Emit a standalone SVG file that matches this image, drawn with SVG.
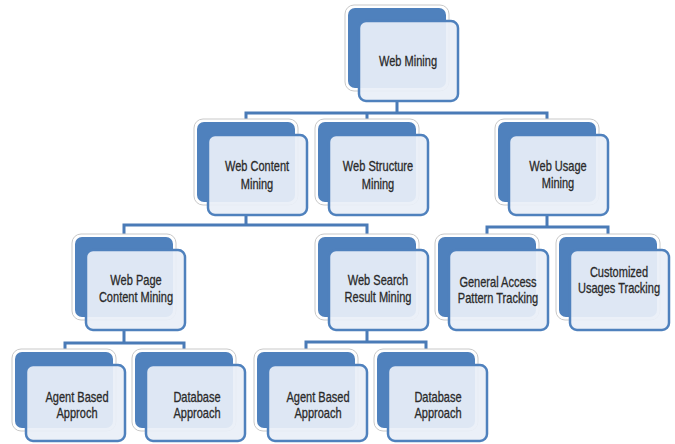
<svg xmlns="http://www.w3.org/2000/svg" width="675" height="444" viewBox="0 0 675 444">
<style>
.halo{fill:#fff;stroke:#c9c9c9;stroke-width:1}
.back{fill:#4f81bd}
.front{fill:#eaeff7;fill-opacity:0.93;stroke:#4f81bd;stroke-width:2.5}
.t{font-family:"Liberation Sans",Arial,sans-serif;font-size:12px;fill:#2a2a2a;stroke:#2a2a2a;stroke-width:0.25;text-anchor:middle}
.c{fill:none;stroke:#4a7bb7;stroke-width:3;stroke-linejoin:miter}
</style>
<rect width="675" height="444" fill="#fff"/>
<g id="connectors">
<path class="c" d="M397 101V113M246 122V113H547V122M367 113V122"/>
<path class="c" d="M246 215V225M124 237V225H367V237"/>
<path class="c" d="M547 215V227M487 237V227H608V237"/>
<path class="c" d="M124 330V343M65 352V343H184V352"/>
<path class="c" d="M367 330V342M306 352V342H426V352"/>
</g>
<g id="web-mining">
<rect class="halo" x="345" y="5" width="104" height="86" rx="9"/>
<rect class="back" x="348" y="8" width="98" height="80" rx="7"/>
<rect class="front" x="359" y="21" width="99" height="80" rx="7"/>
<text class="t" transform="translate(408 66) scale(0.92 1.15)">Web Mining</text>
</g>
<g id="web-content-mining">
<rect class="halo" x="194" y="119" width="104" height="86" rx="9"/>
<rect class="back" x="197" y="122" width="98" height="80" rx="7"/>
<rect class="front" x="208" y="135" width="99" height="80" rx="7"/>
<text class="t" transform="translate(257 171) scale(0.92 1.15)">Web Content</text>
<text class="t" transform="translate(257 189) scale(0.92 1.15)">Mining</text>
</g>
<g id="web-structure-mining">
<rect class="halo" x="315" y="119" width="104" height="86" rx="9"/>
<rect class="back" x="318" y="122" width="98" height="80" rx="7"/>
<rect class="front" x="329" y="135" width="99" height="80" rx="7"/>
<text class="t" transform="translate(378 171) scale(0.92 1.15)">Web Structure</text>
<text class="t" transform="translate(378 189) scale(0.92 1.15)">Mining</text>
</g>
<g id="web-usage-mining">
<rect class="halo" x="495" y="119" width="104" height="86" rx="9"/>
<rect class="back" x="498" y="122" width="98" height="80" rx="7"/>
<rect class="front" x="509" y="135" width="99" height="80" rx="7"/>
<text class="t" transform="translate(558 171) scale(0.92 1.15)">Web Usage</text>
<text class="t" transform="translate(558 188) scale(0.92 1.15)">Mining</text>
</g>
<g id="web-page-content-mining">
<rect class="halo" x="72" y="234" width="104" height="86" rx="9"/>
<rect class="back" x="75" y="237" width="98" height="80" rx="7"/>
<rect class="front" x="86" y="250" width="99" height="80" rx="7"/>
<text class="t" transform="translate(136 285) scale(0.92 1.15)">Web Page</text>
<text class="t" transform="translate(136 302) scale(0.92 1.15)">Content Mining</text>
</g>
<g id="web-search-result-mining">
<rect class="halo" x="315" y="234" width="104" height="86" rx="9"/>
<rect class="back" x="318" y="237" width="98" height="80" rx="7"/>
<rect class="front" x="329" y="250" width="99" height="80" rx="7"/>
<text class="t" transform="translate(378 285) scale(0.92 1.15)">Web Search</text>
<text class="t" transform="translate(378 302) scale(0.92 1.15)">Result Mining</text>
</g>
<g id="general-access">
<rect class="halo" x="435" y="234" width="104" height="86" rx="9"/>
<rect class="back" x="438" y="237" width="98" height="80" rx="7"/>
<rect class="front" x="449" y="250" width="99" height="80" rx="7"/>
<text class="t" transform="translate(498 287) scale(0.92 1.15)">General Access</text>
<text class="t" transform="translate(498 303) scale(0.92 1.15)">Pattern Tracking</text>
</g>
<g id="customized-usages">
<rect class="halo" x="556" y="234" width="104" height="86" rx="9"/>
<rect class="back" x="559" y="237" width="98" height="80" rx="7"/>
<rect class="front" x="570" y="250" width="99" height="80" rx="7"/>
<text class="t" transform="translate(619 277) scale(0.92 1.15)">Customized</text>
<text class="t" transform="translate(619 293) scale(0.92 1.15)">Usages Tracking</text>
</g>
<g id="agent-based-1">
<rect class="halo" x="12" y="349" width="104" height="82" rx="9"/>
<rect class="back" x="15" y="352" width="98" height="76" rx="7"/>
<rect class="front" x="26" y="365" width="99" height="76" rx="7"/>
<text class="t" transform="translate(77 402) scale(0.92 1.15)">Agent Based</text>
<text class="t" transform="translate(77 418) scale(0.92 1.15)">Approch</text>
</g>
<g id="database-1">
<rect class="halo" x="132" y="349" width="104" height="82" rx="9"/>
<rect class="back" x="135" y="352" width="98" height="76" rx="7"/>
<rect class="front" x="146" y="365" width="99" height="76" rx="7"/>
<text class="t" transform="translate(197 402) scale(0.92 1.15)">Database</text>
<text class="t" transform="translate(197 418) scale(0.92 1.15)">Approach</text>
</g>
<g id="agent-based-2">
<rect class="halo" x="254" y="349" width="104" height="82" rx="9"/>
<rect class="back" x="257" y="352" width="98" height="76" rx="7"/>
<rect class="front" x="268" y="365" width="99" height="76" rx="7"/>
<text class="t" transform="translate(318 402) scale(0.92 1.15)">Agent Based</text>
<text class="t" transform="translate(318 418) scale(0.92 1.15)">Approach</text>
</g>
<g id="database-2">
<rect class="halo" x="374" y="349" width="104" height="82" rx="9"/>
<rect class="back" x="377" y="352" width="98" height="76" rx="7"/>
<rect class="front" x="388" y="365" width="99" height="76" rx="7"/>
<text class="t" transform="translate(438 402) scale(0.92 1.15)">Database</text>
<text class="t" transform="translate(438 418) scale(0.92 1.15)">Approach</text>
</g>
</svg>
